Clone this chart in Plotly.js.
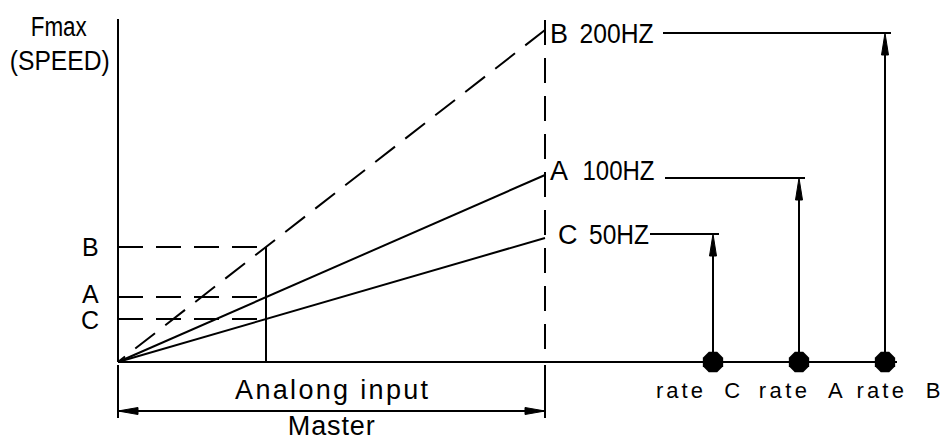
<!DOCTYPE html>
<html>
<head>
<meta charset="utf-8">
<script src="https://cdn.plot.ly/plotly-3.0.1.min.js"></script>
<style>html,body{margin:0;padding:0;background:#fff;}#chart{width:944px;height:442px;}</style>
</head>
<body>
<div id="chart"></div>
<script>
// ---- data (diagram units: origin at the axes corner) ----
const seriesNames   = ['B', 'A', 'C'];
const freqLabels    = ['200HZ', '100HZ', '50HZ'];
const seriesDash    = [true, false, false];
const inputLevel    = [115, 65, 43];     // speed level at the analog input point
const masterLevel   = [332, 187, 124];   // speed level at the end of master range
const freqLevel     = [329, 184, 128];   // frequency reference level (leader / arrow)
const rateX         = [767, 681, 595];   // position of "rate" marks on the horizontal axis
const inputX        = 148;               // analog input point
const masterX       = 427;               // end of master range
const rateLabels    = ['rate  B', 'rate  A', 'rate  C'];

// ---- layout constants ----
const axisTop = 343, axisRight = 779;
const dashPat = '25px,13px';
const leaderStart = [545, 547, 532];
const letterOffset = [3, 3, 11];
const freqOffset = [29, 31, 39];
const freqWidth = [74, 72, 60];
const rateLabelShift = [13, 2, -15];
const leftLabelNudge = [0, 3, -1];
const black = '#000';
const lw = 2;

const traces = [];
function seg(x, y, dash, width) {
  traces.push({x: x, y: y, mode: 'lines', type: 'scatter', hoverinfo: 'skip',
    line: {color: black, width: width || lw, dash: dash || 'solid'}});
}
function tri(x, y) {
  traces.push({x: x, y: y, mode: 'lines', type: 'scatter', fill: 'toself', fillcolor: black,
    hoverinfo: 'skip', line: {color: black, width: 1}});
}

// axes
seg([0, 0], [axisTop, 0]);
seg([0, axisRight], [0, 0]);
// master dashed vertical
seg([masterX, masterX], [axisTop - 1, 0], dashPat);
// input vertical
seg([inputX, inputX], [0, Math.max(...inputLevel)]);

seriesNames.forEach((s, i) => {
  seg([0, inputX], [inputLevel[i], inputLevel[i]], dashPat);
  seg([masterX, 0], [masterLevel[i], 0], seriesDash[i] ? dashPat : 'solid');
  seg([leaderStart[i], rateX[i] + 6], [freqLevel[i], freqLevel[i]]);
  seg([rateX[i], rateX[i]], [0, freqLevel[i] - 20]);
  tri([rateX[i] - 3.5, rateX[i], rateX[i] + 3.5, rateX[i] - 3.5],
      [freqLevel[i] - 22, freqLevel[i], freqLevel[i] - 22, freqLevel[i] - 22]);
});

// rate dots
traces.push({x: rateX, y: rateX.map(() => 0), mode: 'markers', type: 'scatter', hoverinfo: 'skip',
  marker: {symbol: 'octagon', size: 22, color: black, line: {width: 0}}});

// dimension line (Analog input / Master)
seg([0, 0], [-3, -56]);
seg([masterX, masterX], [-3, -56]);
seg([0, masterX], [-49, -49]);
tri([0, 20, 20, 0], [-49, -45.5, -52.5, -49]);
tri([masterX, masterX - 20, masterX - 20, masterX], [-49, -45.5, -52.5, -49]);

// ---- annotations ----
const FONT = '"Liberation Sans Narrow", "Arial Narrow", "Liberation Sans", sans-serif';
const annotations = [];
const fit = [];   // [targetWidth, mode]
function txt(text, x, y, size, xanchor, width, mode) {
  annotations.push({text: text, x: x, y: y, xref: 'x', yref: 'y', showarrow: false,
    xanchor: xanchor || 'center', yanchor: 'middle',
    font: {family: FONT, size: size, color: black}});
  fit.push(width ? [width, mode || 'spacingAndGlyphs'] : null);
}
txt('Fmax', -59, 335, 27, 'center', 56);
txt('(SPEED)', -58, 301, 27, 'center', 100);
seriesNames.forEach((s, i) => {
  txt(s, -28, inputLevel[i] + leftLabelNudge[i], 25);
  txt(s, masterX + letterOffset[i], freqLevel[i] + (i === 1 ? 7 : -1), 27, 'left');
  txt(freqLabels[i], masterX + freqOffset[i], freqLevel[i] + (i === 1 ? 7 : -1), 27, 'left', freqWidth[i]);
  txt(rateLabels[i], rateX[i] + rateLabelShift[i], -28, 22, 'center', 84, 'spacing');
});
txt('Analong input', masterX / 2, -28, 27, 'center', 193, 'spacing');
txt('Master', masterX / 2, -64, 27, 'center', 87, 'spacing');

const layout = {
  width: 944, height: 442,
  margin: {l: 0, r: 0, t: 0, b: 0, pad: 0},
  paper_bgcolor: '#fff', plot_bgcolor: '#fff',
  showlegend: false, hovermode: false,
  xaxis: {range: [-118, 826], visible: false, fixedrange: true},
  yaxis: {range: [-80, 362], visible: false, fixedrange: true},
  annotations: annotations
};

Plotly.newPlot('chart', traces, layout, {staticPlot: true, displayModeBar: false}).then(() => {
  document.querySelectorAll('g.annotation').forEach(g => {
    const idx = +g.getAttribute('data-index');
    const t = g.querySelector('text.annotation-text');
    const f = fit[idx];
    if (t && f) {
      t.setAttribute('textLength', f[0]);
      t.setAttribute('lengthAdjust', f[1]);
    }
  });
});
</script>
</body>
</html>
